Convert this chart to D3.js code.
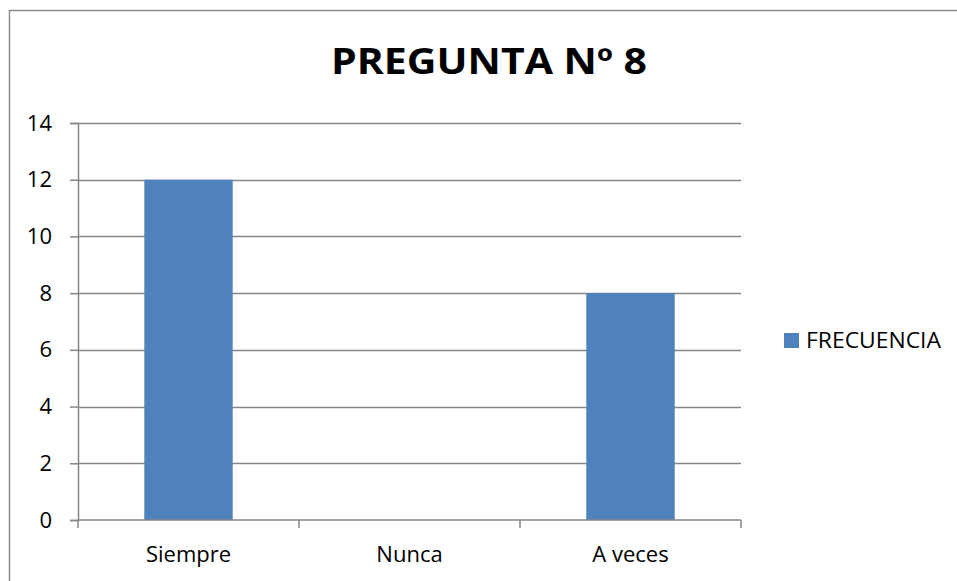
<!DOCTYPE html>
<html lang="es">
<head>
<meta charset="UTF-8" />
<script src="https://d3js.org/d3.v7.min.js"></script>
<title>PREGUNTA Nº 8</title>
<style>
  body { margin: 0; background: #fff; }
  svg { display: block; font-family: "Open Sans", "Noto Sans", sans-serif; }
</style>
</head>
<body>
<svg width="957" height="581"></svg>
<script>
  const categories = ["Siempre", "Nunca", "A veces"]
  const values = [12, 0, 8]
  const seriesName = "FRECUENCIA"
  const yTicks = [0, 2, 4, 6, 8, 10, 12, 14]

  const margin = { left: 78, right: 216, top: 123, bottom: 61 }
  const width = 957
  const height = 581

  const x = d3.scaleBand().domain(categories).range([margin.left, width - margin.right]).paddingInner(0.6).paddingOuter(0.3)
  const xEdges = d3.scaleBand().domain(categories).range([margin.left, width - margin.right])
  const y = d3.scaleLinear().domain([0, 14]).range([height - margin.bottom, margin.top])

  const svg = d3.select("svg")

  // marco del gráfico
  svg.append("rect").attr("x", 9.5).attr("y", 10.5).attr("width", 1000).attr("height", 1000)
    .attr("fill", "none").attr("stroke", "#8c8c8c").attr("stroke-width", 1.5)

  svg.append("text").attr("x", 489).attr("y", 74).attr("text-anchor", "middle")
    .attr("font-size", 35).attr("font-weight", "bold")
    .attr("textLength", 316).attr("lengthAdjust", "spacingAndGlyphs").text("PREGUNTA Nº 8")

  // líneas de cuadrícula
  svg.append("g").selectAll("line").data(yTicks.filter(d => d > 0)).enter().append("line")
    .attr("x1", margin.left).attr("x2", width - margin.right)
    .attr("y1", d => Math.round(y(d)) + 0.5).attr("y2", d => Math.round(y(d)) + 0.5)
    .attr("stroke", "#868686").attr("stroke-width", 1.3)

  svg.append("g").attr("fill", "#4F81BD").selectAll("rect").data(values).enter().append("rect")
    .attr("x", (d, i) => x(categories[i])).attr("width", x.bandwidth())
    .attr("y", d => y(d)).attr("height", d => y(0) - y(d))

  const yAxis = g => g.attr("transform", `translate(${margin.left},0)`)
    .call(d3.axisLeft(y).tickValues(yTicks).tickSize(8).tickPadding(26))
  const xAxis = g => g.attr("transform", `translate(0,${height - margin.bottom})`)
    .call(d3.axisBottom(xEdges).tickSize(0).tickPadding(26))

  const gy = svg.append("g").call(yAxis)
  const gx = svg.append("g").call(xAxis)
  for (const g of [gy, gx]) {
    g.selectAll(".domain, line").attr("stroke", "#868686").attr("stroke-width", 1.5)
    g.selectAll("text").attr("font-size", 22).attr("fill", "#000").attr("font-family", "Open Sans, sans-serif")
  }
  gy.selectAll("text").attr("text-anchor", "end").attr("x", -26)
  gx.select(".domain").attr("d", `M${margin.left},0H${width - margin.right}`)
  // marcas entre categorías
  gx.append("g").selectAll("line").data(categories.concat([null])).enter().append("line")
    .attr("x1", (d, i) => margin.left + i * xEdges.bandwidth()).attr("x2", (d, i) => margin.left + i * xEdges.bandwidth())
    .attr("y1", 0).attr("y2", 8).attr("stroke", "#868686").attr("stroke-width", 1.5)

  const legend = svg.append("g").attr("transform", "translate(784,333)")
  legend.append("rect").attr("width", 15).attr("height", 15).attr("fill", "#4F81BD")
  legend.append("text").attr("x", 22).attr("y", 15).attr("font-size", 22)
    .attr("textLength", 135).attr("lengthAdjust", "spacingAndGlyphs").text(seriesName)
</script>
</body>
</html>
